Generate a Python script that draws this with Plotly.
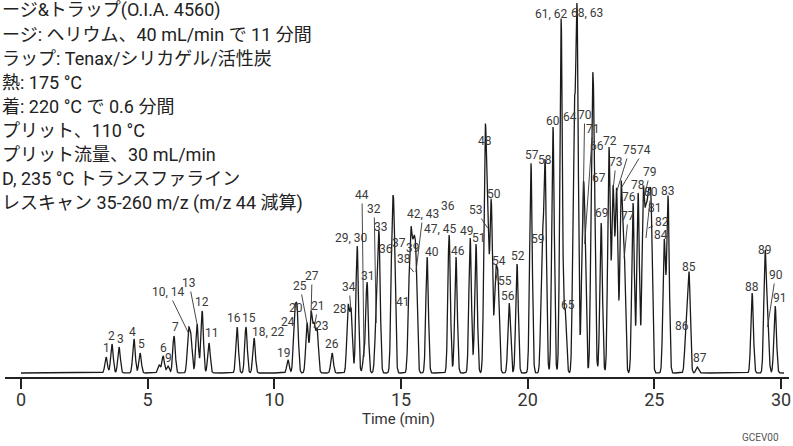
import numpy as np
import plotly.graph_objects as go

# ---------------- data ----------------
# retention times (min) and peak heights (arbitrary units)
peak_times = [3.36, 3.59, 3.87, 4.46, 4.70, 5.45, 5.61, 5.80, 6.04, 6.61, 6.71, 6.95, 7.15, 7.42,
              8.53, 8.88, 9.20, 10.54, 10.80, 10.90, 11.29, 11.45, 11.57, 11.69, 12.28, 12.91,
              13.03, 13.27, 13.54, 13.66, 14.02, 14.13, 14.65, 14.73, 15.32, 15.40, 15.50, 15.59,
              16.03, 16.90, 17.17, 17.73, 17.96, 18.32, 18.42, 18.56, 18.73, 18.83, 19.27, 19.58,
              20.13, 20.57, 20.69, 21.00, 21.32, 21.48, 21.83, 21.95, 22.17, 22.25, 22.54, 22.62,
              22.90, 23.21, 23.37, 23.51, 23.69, 23.81, 24.16, 24.36, 24.56, 24.67, 24.77, 24.87,
              25.39, 25.54, 26.25, 26.37, 26.69, 28.86, 29.37, 29.47, 29.77]
peak_heights = [16, 29, 26, 34, 20, 8, 17, 7, 37, 40, 33, 49, 62, 30,
                46, 46, 35, 13, 57, 59, 50, 59, 45, 42, 20, 65,
                61, 127, 16, 90, 50, 138, 123, 122, 65, 115, 101, 101,
                116, 138, 116, 135, 129, 225, 145, 171, 91, 86, 70, 109,
                210, 127, 206, 246, 354, 62, 249, 354, 135, 129, 222, 190,
                150, 225, 183, 181, 185, 115, 170, 180, 172, 135, 145, 157,
                132, 176, 41, 99, 6, 80, 116, 46, 67]
# peak labels (None = unlabeled peak)
peak_labels = ["1", "2", "3", "4", "5", None, "6", "9", "7", "10, 14", None, "13", "12", "11",
               "16", "15", "18, 22", "19", "24", "20", "25", "27", "21", "23", "26", "28",
               "34", "29, 30", "44", "31", "32", "33", "36", "37", "41", "39", "38", "42, 43",
               "40", "47, 45", "46", "49", "51", "48", "53", "50", "54", "55", "56", "52",
               "57", "59", "58", "60", "61, 62", "65", "64", "68, 63", "70", "71", "66", "67",
               "69", "72", "73", "75", "74", "77", "76", "78", "79", "80", "82", "81",
               "84", "83", "86", "85", "87", "88", "89", "90", "91"]
x_ticks = [0, 5, 10, 15, 20, 25, 30]
method_lines = [
    "ージ&トラップ(O.I.A. 4560)",
    "ージ: ヘリウム、40 mL/min で 11 分間",
    "ラップ: Tenax/シリカゲル/活性炭",
    "熱: 175 °C",
    "着: 220 °C で 0.6 分間",
    "プリット、110 °C",
    "プリット流量、30 mL/min",
    "D, 235 °C トランスファライン",
    "レスキャン 35-260 m/z (m/z 44 減算)",
]

# ---------------- label placement (pixels) ----------------
# (xshift, yshift) for plain labels; ("arrow", ax, ay) for labels with leader lines
label_pos = {
    "1": (0, 9), "2": (0, 8), "3": (1, 8), "4": (-1, 7), "5": (1, 9), "6": (0, 8), "9": (1, 8),
    "7": (1, 9), "10, 14": ("arrow", -20, -41), "13": ("arrow", -8, -41), "12": (0, 9),
    "11": (3, 10), "16": (-3, 9), "15": (3, 9), "18, 22": (14, 6), "19": (-4, 7),
    "24": (-7, -6), "20": (-1, 6), "25": ("arrow", -7, -37), "27": ("arrow", 1, -38),
    "21": ("arrow", 4, -22), "23": (5, 5), "26": (0, 9), "28": (-8, -1), "34": ("arrow", -2, -25),
    "29, 30": (-6, 8), "44": ("arrow", -2, -162), "31": (1, 7), "32": ("arrow", -2, -114),
    "33": (2, 8), "36": (-6, 1), "37": (5, 8), "38": ("arrow", -10, -13), "39": (2, 10),
    "41": (-6, 6), "42, 43": ("arrow", 7, -58), "40": (5, 5), "47, 45": (-9, 6), "46": (2, 6),
    "49": (-3, 7), "51": (3, 6), "48": (0, 7), "53": ("arrow", -12, -18), "50": (3, 8),
    "54": ("arrow", 4, -21), "55": (7, 6), "56": (-1, 7), "52": (1, 8), "57": (1, 8),
    "58": (0, 7), "59": (-4, 7), "60": (0, 6), "61, 62": (-10, 5), "65": (3, 6), "64": (-4, 7),
    "68, 63": (10, 6), "70": ("arrow", 2, -123), "71": ("arrow", 8, -115), "66": (5, 5),
    "67": (5, 5), "69": (1, 10), "72": (1, 7), "73": ("arrow", 3, -28), "75": ("arrow", 13, -42),
    "74": ("arrow", 23, -38), "77": ("arrow", 4, -42), "76": (-4, 6), "78": (0, 8),
    "79": ("arrow", 7, -29), "80": ("arrow", 5, -46), "82": ("arrow", 13, -6), "81": (4, 8),
    "84": (-3, 6), "83": (0, 6), "86": (-4, 6), "85": (0, 7), "87": (3, 9), "88": (0, 6),
    "89": (0, 7), "90": ("arrow", 8, -52), "91": (5, 8),
}

FONT = "Roboto, Noto Sans CJK JP, sans-serif"
LBL = dict(family=FONT, size=12, color="#3a3a3a")

# plot-area geometry in pixels (for placing paper-referenced texts)
ML, MR, MT, MB = 5, 4, 0, 69
W, H = 793, 446
PW, PH = W - ML - MR, H - MT - MB


def px_to_paper(xpx, ypx):
    return (xpx - ML) / PW, (H - MB - ypx) / PH


# ---------------- signal ----------------
t = np.arange(0.0, 30.12, 0.004)
sigma = 0.05
signal = np.zeros_like(t)
for rt, h in zip(peak_times, peak_heights):
    signal += h * np.exp(-0.5 * ((t - rt) / sigma) ** 2)

fig = go.Figure()
fig.add_trace(go.Scatter(x=t, y=signal, mode="lines",
                         line=dict(color="#1a1a1a", width=1.3), hoverinfo="skip",
                         showlegend=False))

annotations = []
for rt, h, lab in zip(peak_times, peak_heights, peak_labels):
    if lab is None:
        continue
    pos = label_pos[lab]
    if pos[0] == "arrow":
        annotations.append(dict(x=rt, y=h, xref="x", yref="y", text=lab, showarrow=True,
                                ax=pos[1], ay=pos[2], arrowhead=0, arrowwidth=0.9,
                                arrowcolor="#333333", standoff=0, font=LBL))
    else:
        annotations.append(dict(x=rt, y=h, xref="x", yref="y", text=lab, showarrow=False,
                                xshift=pos[0], yshift=pos[1], xanchor="center", yanchor="middle",
                                font=LBL))

# duplicate "36" label printed above 47, 45
i4745 = peak_labels.index("47, 45")
annotations.append(dict(x=peak_times[i4745], y=peak_heights[i4745], xref="x", yref="y",
                        text="36", showarrow=False, xshift=-1, yshift=29, font=LBL))

# method text block (top left)
for i, line in enumerate(method_lines):
    px, py = px_to_paper(0, 10 + 24.1 * i)
    annotations.append(dict(x=px, y=py, xref="paper", yref="paper", text=line,
                            showarrow=False, xanchor="left", yanchor="middle",
                            font=dict(family=FONT, size=18, color="#222222")))

px, py = px_to_paper(398, 419)
annotations.append(dict(x=px, y=py, xref="paper", yref="paper",
                        text="Time (min)", showarrow=False, xanchor="center", yanchor="middle",
                        font=dict(family=FONT, size=15, color="#333333")))
px, py = px_to_paper(760, 437)
annotations.append(dict(x=px, y=py, xref="paper", yref="paper",
                        text="GCEV00", showarrow=False, xanchor="center", yanchor="middle",
                        font=dict(family=FONT, size=10, color="#555555")))

fig.update_layout(
    template="none",
    width=W, height=H,
    margin=dict(l=ML, r=MR, t=MT, b=MB, pad=0),
    paper_bgcolor="white", plot_bgcolor="white",
    annotations=annotations,
    xaxis=dict(range=[-0.6316, 30.316], tickvals=x_ticks, ticks="outside", ticklen=10,
               tickwidth=1.5, tickcolor="#222222", showline=True, linecolor="#222222",
               linewidth=1.5, showgrid=False, zeroline=False, automargin=False,
               ticklabelstandoff=-4,
               tickfont=dict(family=FONT, size=18, color="#333333")),
    yaxis=dict(range=[-4, 373], visible=False, showgrid=False, zeroline=False,
               automargin=False),
)
fig.write_html("out.html", config={"displayModeBar": False},
               post_script="document.body.style.margin='0';document.body.style.overflow='hidden';")
